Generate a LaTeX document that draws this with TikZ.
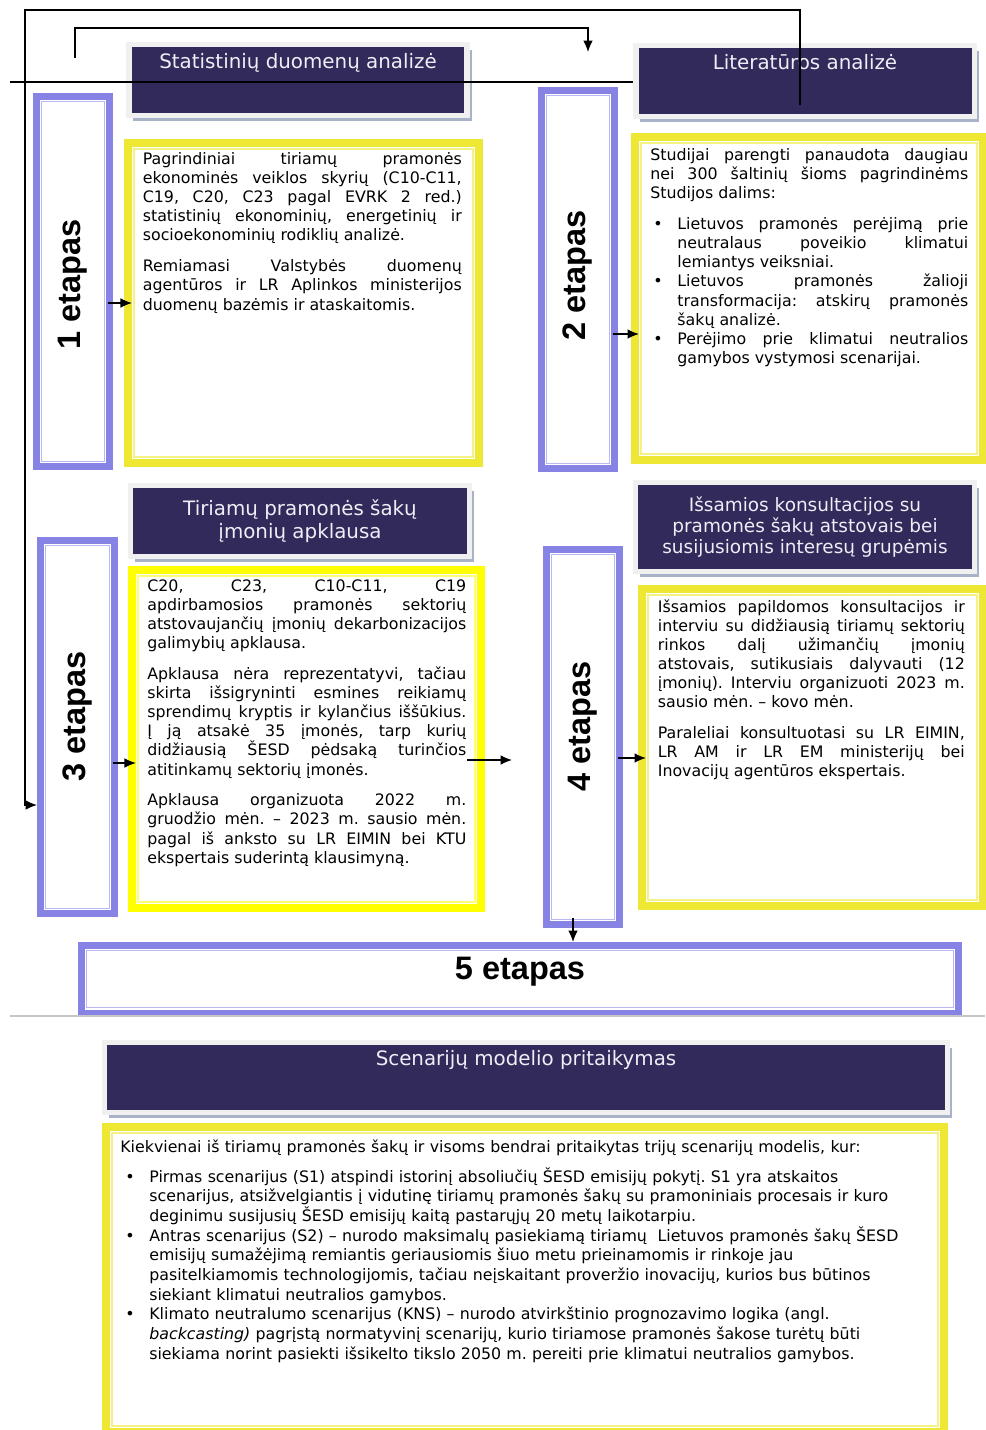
\documentclass[tikz,border=0pt]{standalone}
\usepackage{fontspec}
\setmainfont{DejaVu Sans}
\newfontfamily\etapfont{Liberation Sans}
\usepackage{graphicx}
\usepackage{xcolor}
\usetikzlibrary{shadows,arrows.meta}

\definecolor{navy}{RGB}{50,42,90}
\definecolor{framegray}{RGB}{240,240,240}
\definecolor{shadowblue}{RGB}{168,178,200}
\definecolor{etapblue}{RGB}{134,131,228}
\definecolor{etapline}{RGB}{186,184,242}
\definecolor{boxyellow}{RGB}{238,232,52}
\definecolor{pureyellow}{RGB}{255,255,0}
\definecolor{titlewhite}{RGB}{238,238,246}

\setlength{\parindent}{0pt}
\frenchspacing
\hyphenpenalty=10000
\tolerance=10000
\hbadness=10000

% thin inner line of a framed box
\newcommand{\innerframe}[3]{%
  \draw[#3] ([shift={(#2,#2)}]#1.south west) rectangle ([shift={(-#2,-#2)}]#1.north east);}
% bullet paragraph with hanging indent
\newcommand{\bitem}[2]{\par\hangindent=#2\hangafter=1\noindent\makebox[#2][l]{\hspace{#1}•}}

\tikzset{
  header/.style={rectangle, fill=navy, draw=framegray, line width=3.1pt, text=titlewhite,
    drop shadow={shadow xshift=2.6pt, shadow yshift=-3.1pt, fill=shadowblue, opacity=1},
    font=\fontsize{11.3}{13}\selectfont, align=center, inner sep=0pt},
  toptitle/.style={text height=0.465cm, text depth=0.945cm},
  etapas/.style={rectangle, draw=etapblue, line width=3.7pt, fill=white, inner sep=0pt,
    font=\etapfont\bfseries\fontsize{18.5}{22}\selectfont},
  etapinner/.style={draw=etapline, line width=0.7pt},
  textbox/.style={rectangle, draw=boxyellow, line width=4.3pt, fill=white},
  boxinner/.style={draw=boxyellow!60, line width=1pt},
  bodytext/.style={anchor=north west, inner sep=0pt, align=justify,
    font=\fontsize{9}{10.9}\selectfont},
  link/.style={line width=0.7pt},
  >={Latex[length=6.5pt,width=5.5pt]},
  inarrow/.style={link, ->, shorten <=-3pt, shorten >=-4.5pt},
}

\begin{document}
\begin{tikzpicture}[x=0.02cm, y=-0.02cm]
\useasboundingbox (0,0) rectangle (985,1430);

% Headers
\node[header, toptitle, minimum width=6.77cm, minimum height=1.41cm] (hStat) at (298,80) {Statistinių duomenų analizė};
\node[header, toptitle, minimum width=6.77cm, minimum height=1.41cm] (hLit) at (805,81) {Literatūros analizė};
\node[header, minimum width=6.79cm, minimum height=1.43cm] (hTir) at (300,521) {Tiriamų pramonės šakų\\įmonių apklausa};
\node[header, minimum width=6.79cm, minimum height=1.79cm, font=\fontsize{10.5}{12.2}\selectfont] (hIss) at (805,527) {Išsamios konsultacijos su\\pramonės šakų atstovais bei\\susijusiomis interesų grupėmis};
\node[header, toptitle, minimum width=16.87cm, minimum height=1.41cm] (hScen) at (526,1077.5) {Scenarijų modelio pritaikymas};

% Stages
\node[etapas, minimum width=1.47cm, minimum height=7.41cm] (e1) at (73,281.5) {\rotatebox{90}{1 etapas\hspace{3pt}}};
\node[etapas, minimum width=1.47cm, minimum height=7.57cm] (e2) at (578,279.5) {\rotatebox{90}{\hspace{5pt}2 etapas}};
\node[etapas, minimum width=1.49cm, minimum height=7.47cm] (e3) at (77.5,727) {\rotatebox{90}{\hspace{12pt}3 etapas}};
\node[etapas, minimum width=1.47cm, minimum height=7.51cm] (e4) at (583,737) {\rotatebox{90}{\hspace{12pt}4 etapas}};
\node[etapas, minimum width=17.54cm, minimum height=1.35cm, text height=13.5pt, text depth=13.5pt] (e5) at (520,979) {5 etapas};
\foreach \n in {e1,e2,e3,e4,e5} {\innerframe{\n}{4.8pt}{etapinner}}

% Text boxes
\node[textbox, minimum width=7.03cm, minimum height=6.41cm] (y1) at (303.5,303) {};
\node[textbox, minimum width=6.97cm, minimum height=6.47cm] (y2) at (809,298.5) {};
\node[textbox, draw=pureyellow, minimum width=6.99cm, minimum height=6.77cm] (y3) at (306.5,739) {};
\node[textbox, minimum width=6.83cm, minimum height=6.35cm] (y4) at (812.5,747.5) {};
\node[textbox, minimum width=16.77cm, minimum height=6.11cm] (y6) at (525,1279.5) {};
\foreach \n in {y1,y2,y4,y6} {\innerframe{\n}{5.6pt}{boxinner}}
\innerframe{y3}{5.6pt}{boxinner, draw=pureyellow!55}

\node[bodytext, text width=6.38cm] (t1) at (142.5,152) {%
Pagrindiniai tiriamų pramonės\linebreak
ekonominės veiklos skyrių (C10-C11,\linebreak
C19, C20, C23 pagal EVRK 2 red.)\linebreak
statistinių ekonominių, energetinių ir\linebreak
socioekonominių rodiklių analizė.\par\vspace{6.6pt}
Remiamasi Valstybės duomenų\linebreak
agentūros ir LR Aplinkos ministerijos\linebreak
duomenų bazėmis ir ataskaitomis.\par};

\node[bodytext, text width=6.36cm] (t2) at (650,148) {%
Studijai parengti panaudota daugiau\linebreak
nei 300 šaltinių šioms pagrindinėms\linebreak
Studijos dalims:\par\vspace{6.6pt}
\bitem{1.7pt}{15.4pt}Lietuvos pramonės perėjimą prie\linebreak
neutralaus poveikio klimatui\linebreak
lemiantys veiksniai.
\bitem{1.7pt}{15.4pt}Lietuvos pramonės žalioji\linebreak
transformacija: atskirų pramonės\linebreak
šakų analizė.
\bitem{1.7pt}{15.4pt}Perėjimo prie klimatui neutralios\linebreak
gamybos vystymosi scenarijai.\par};

\node[bodytext, text width=6.38cm] (t3) at (147,579) {%
C20, C23, C10-C11, C19\linebreak
apdirbamosios pramonės sektorių\linebreak
atstovaujančių įmonių dekarbonizacijos\linebreak
galimybių apklausa.\par\vspace{6.6pt}
Apklausa nėra reprezentatyvi, tačiau\linebreak
skirta išsigryninti esmines reikiamų\linebreak
sprendimų kryptis ir kylančius iššūkius.\linebreak
Į ją atsakė 35 įmonės, tarp kurių\linebreak
didžiausią ŠESD pėdsaką turinčios\linebreak
atitinkamų sektorių įmonės.\par\vspace{6.6pt}
Apklausa organizuota 2022 m.\linebreak
gruodžio mėn. – 2023 m. sausio mėn.\linebreak
pagal iš anksto su LR EIMIN bei KTU\linebreak
ekspertais suderintą klausimyną.\par};

\node[bodytext, text width=6.14cm] (t4) at (657.5,599) {%
Išsamios papildomos konsultacijos ir\linebreak
interviu su didžiausią tiriamų sektorių\linebreak
rinkos dalį užimančių įmonių\linebreak
atstovais, sutikusiais dalyvauti (12\linebreak
įmonių). Interviu organizuoti 2023 m.\linebreak
sausio mėn. – kovo mėn.\par\vspace{6.6pt}
Paraleliai konsultuotasi su LR EIMIN,\linebreak
LR AM ir LR EM ministerijų bei\linebreak
Inovacijų agentūros ekspertais.\par};

\node[bodytext, align=left, text width=16.8cm, font=\fontsize{9}{11.2}\selectfont] (t6) at (120,1139) {%
Kiekvienai iš tiriamų pramonės šakų ir visoms bendrai pritaikytas trijų scenarijų modelis, kur:\par\vspace{5.9pt}
\bitem{2.8pt}{16.5pt}Pirmas scenarijus (S1) atspindi istorinį absoliučių ŠESD emisijų pokytį. S1 yra atskaitos\newline
scenarijus, atsižvelgiantis į vidutinę tiriamų pramonės šakų su pramoniniais procesais ir kuro\newline
deginimu susijusių ŠESD emisijų kaitą pastarųjų 20 metų laikotarpiu.
\bitem{2.8pt}{16.5pt}Antras scenarijus (S2) – nurodo maksimalų pasiekiamą tiriamų\ \ Lietuvos pramonės šakų ŠESD\newline
emisijų sumažėjimą remiantis geriausiomis šiuo metu prieinamomis ir rinkoje jau\newline
pasitelkiamomis technologijomis, tačiau neįskaitant proveržio inovacijų, kurios bus būtinos\newline
siekiant klimatui neutralios gamybos.
\bitem{2.8pt}{16.5pt}Klimato neutralumo scenarijus (KNS) – nurodo atvirkštinio prognozavimo logika (angl.\newline
\textit{backcasting)} pagrįstą normatyvinį scenarijų, kurio tiriamose pramonės šakose turėtų būti\newline
siekiama norint pasiekti išsikelto tikslo 2050 m. pereiti prie klimatui neutralios gamybos.\par};

% Connectors
\coordinate (cLitIn) at (800,105);
\coordinate (cStatIn) at (75,58);
\coordinate (cTopTip) at (588,52);
\coordinate (cLeft) at (10,82);
\coordinate (cOut) at (467,760);
\coordinate (cOutTip) at (512,760);

\draw[link, ->] (cLitIn) |- (25,10) |- (e3.west |- 0,805);
\draw[link, ->] (cStatIn) |- (cTopTip |- 0,28) -- (cTopTip);
\draw[line width=1.2pt] (cLeft) -- (hLit.west |- cLeft);

\draw[inarrow] (e1.east |- 0,303) -- (y1.west |- 0,303);
\draw[inarrow] (e2.east |- 0,334) -- (y2.west |- 0,334);
\draw[inarrow] (e3.east |- 0,763) -- (y3.west |- 0,763);
\draw[inarrow] (e4.east |- 0,758) -- (y4.west |- 0,758);
\draw[link, ->] (cOut) -- (cOutTip);
\draw[link, ->, shorten <=-5.5pt] (e4.south -| 573,0) -- (e5.north -| 573,0);

% Separator
\draw[gray!45, line width=0.7pt] (10,1016) -- (985,1016);
\end{tikzpicture}
\end{document}
